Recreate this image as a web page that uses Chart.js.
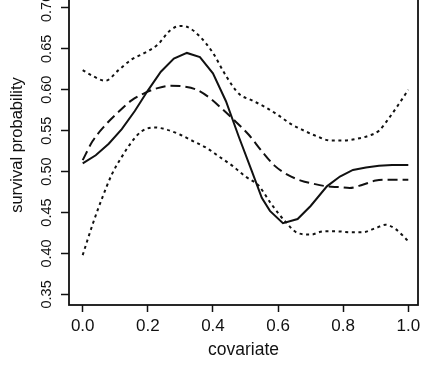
<!DOCTYPE html>
<html>
<head>
<meta charset="utf-8">
<script src="https://cdn.jsdelivr.net/npm/chart.js@4/dist/chart.umd.min.js"></script>
<style>
  html, body { margin: 0; padding: 0; background: #fff; overflow: hidden; }
  #wrap { position: absolute; left: 0; top: -20px; width: 421px; height: 392px; }
</style>
</head>
<body>
<div id="wrap"><canvas id="c" width="421" height="392"></canvas></div>
<script>
// tick labels
const xTicks = [0.0, 0.2, 0.4, 0.6, 0.8, 1.0];
const yTicks = [0.35, 0.40, 0.45, 0.50, 0.55, 0.60, 0.65, 0.70];

// solid line (estimate)
const estX = [0, 0.04, 0.08, 0.12, 0.16, 0.20, 0.24, 0.28, 0.32, 0.36, 0.40, 0.44, 0.48, 0.52, 0.55, 0.575, 0.615, 0.66, 0.70, 0.75, 0.79, 0.83, 0.87, 0.91, 0.95, 1.0];
const estY = [0.510, 0.520, 0.534, 0.552, 0.574, 0.599, 0.622, 0.638, 0.645, 0.640, 0.620, 0.586, 0.542, 0.500, 0.468, 0.452, 0.437, 0.442, 0.458, 0.482, 0.494, 0.502, 0.505, 0.507, 0.508, 0.508];

// dashed line
const meanX = [0, 0.03, 0.07, 0.11, 0.15, 0.19, 0.23, 0.27, 0.31, 0.35, 0.39, 0.43, 0.47, 0.51, 0.55, 0.59, 0.63, 0.67, 0.71, 0.75, 0.79, 0.82, 0.86, 0.90, 0.94, 1.0];
const meanY = [0.514, 0.537, 0.557, 0.573, 0.587, 0.596, 0.602, 0.605, 0.604, 0.600, 0.590, 0.576, 0.561, 0.545, 0.525, 0.507, 0.496, 0.489, 0.485, 0.482, 0.481, 0.480, 0.484, 0.489, 0.490, 0.490];

// dotted upper band
const upX = [0, 0.03, 0.07, 0.11, 0.15, 0.19, 0.23, 0.27, 0.30, 0.32, 0.36, 0.40, 0.44, 0.48, 0.52, 0.56, 0.60, 0.64, 0.68, 0.72, 0.76, 0.80, 0.84, 0.88, 0.91, 0.94, 0.97, 1.0];
const upY = [0.624, 0.617, 0.611, 0.624, 0.637, 0.645, 0.655, 0.673, 0.678, 0.677, 0.665, 0.645, 0.617, 0.595, 0.587, 0.579, 0.569, 0.558, 0.550, 0.543, 0.538, 0.538, 0.540, 0.544, 0.550, 0.565, 0.582, 0.600];

// dotted lower band
const loX = [0, 0.03, 0.06, 0.09, 0.12, 0.15, 0.18, 0.22, 0.26, 0.30, 0.34, 0.38, 0.42, 0.46, 0.50, 0.54, 0.58, 0.62, 0.66, 0.70, 0.74, 0.78, 0.82, 0.86, 0.90, 0.93, 0.96, 1.0];
const loY = [0.398, 0.435, 0.468, 0.497, 0.518, 0.536, 0.549, 0.554, 0.551, 0.545, 0.537, 0.529, 0.518, 0.507, 0.494, 0.483, 0.460, 0.440, 0.425, 0.423, 0.427, 0.427, 0.426, 0.426, 0.431, 0.435, 0.430, 0.415];

const ink = '#111';
const pts = (xs, ys) => xs.map((x, i) => ({ x: x, y: ys[i] }));

// R 风格的外框
const boxPlugin = {
  id: 'box',
  afterDraw(chart) {
    const { ctx, chartArea: a } = chart;
    ctx.save();
    ctx.strokeStyle = ink;
    ctx.lineWidth = 1.8;
    ctx.strokeRect(a.left, a.top, a.right - a.left, a.bottom - a.top);
    ctx.restore();
  }
};

const lineDs = (data, dash, smooth) => ({
  data: data,
  borderColor: ink,
  borderWidth: 2,
  borderDash: dash,
  pointRadius: 0,
  fill: false,
  tension: 0,
  cubicInterpolationMode: smooth ? 'monotone' : 'default'
});

new Chart(document.getElementById('c'), {
  type: 'line',
  data: {
    datasets: [
      lineDs(pts(estX, estY), [], false),
      lineDs(pts(meanX, meanY), [10, 5], true),
      lineDs(pts(upX, upY), [3, 3.6], true),
      lineDs(pts(loX, loY), [3, 3.6], true)
    ]
  },
  options: {
    responsive: false,
    animation: false,
    layout: { padding: { top: 5, right: 3, left: 0, bottom: 0 } },
    plugins: { legend: { display: false }, tooltip: { enabled: false } },
    scales: {
      x: {
        type: 'linear',
        min: -0.0421,
        max: 1.0298,
        afterBuildTicks: s => { s.ticks = xTicks.map(v => ({ value: v })); },
        afterFit: s => { s.height = 67; s.paddingLeft = 0; s.paddingRight = 0; },
        border: { display: false },
        grid: { drawOnChartArea: false, drawTicks: true, tickLength: 7, color: ink, tickWidth: 1.5 },
        ticks: {
          color: ink, padding: 4, maxRotation: 0,
          font: { family: 'Liberation Sans', size: 17 },
          callback: v => Number(v).toFixed(1)
        },
        title: {
          display: true, text: 'covariate', color: ink,
          font: { family: 'Liberation Sans', size: 17.5 },
          padding: { top: 0, bottom: 11 }
        }
      },
      y: {
        type: 'linear',
        min: 0.337,
        max: 0.728,
        afterBuildTicks: s => { s.ticks = yTicks.map(v => ({ value: v })); },
        afterFit: s => { s.width = 69; s.paddingTop = 0; s.paddingBottom = 0; },
        border: { display: false },
        grid: { drawOnChartArea: false, drawTicks: true, tickLength: 8, color: ink, tickWidth: 1.5 },
        ticks: {
          color: ink, padding: 0, minRotation: 90, maxRotation: 90, crossAlign: 'center',
          font: { family: 'Liberation Sans', size: 14.5 },
          callback: v => Number(v).toFixed(2)
        },
        title: {
          display: true, text: 'survival probability', color: ink,
          font: { family: 'Liberation Sans', size: 16.5 },
          padding: { top: 8, bottom: 0 }
        }
      }
    }
  },
  plugins: [boxPlugin]
});
</script>
</body>
</html>
